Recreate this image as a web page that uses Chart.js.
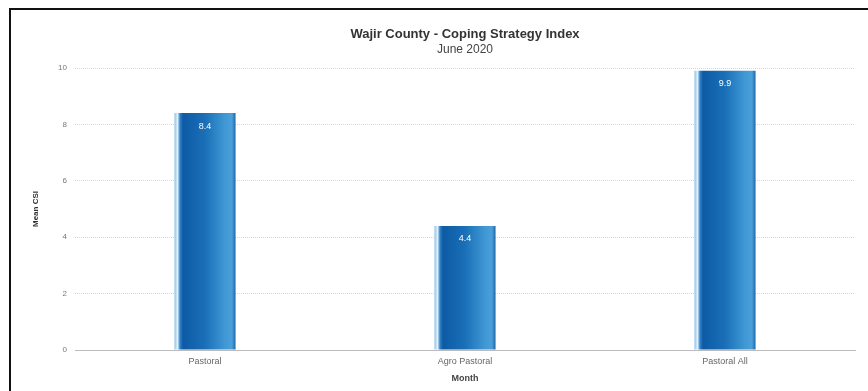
<!DOCTYPE html>
<html>
<head>
<meta charset="utf-8">
<script src="https://cdn.jsdelivr.net/npm/chart.js@4"></script>
<style>
    html, body { margin: 0; padding: 0; background: #fff; }
    #frame {
        position: absolute; left: 9px; top: 8px;
        width: 857px; height: 381px;
        border-top: 2px solid #111; border-left: 2px solid #111;
    }
    #csiChart { display: block; }
</style>
</head>
<body>
<div id="frame"><canvas id="csiChart" width="857" height="381"></canvas></div>
<script>
    // Coping strategy index by livelihood zone
    const zones = ['Pastoral', 'Agro Pastoral', 'Pastoral All'];
    const meanCsi = [8.4, 4.4, 9.9];
    const yTicks = [0, 2, 4, 6, 8, 10];

    const fontFamily = '"Liberation Sans", Arial, sans-serif';
    const barPct = 0.235;

    // cylinder-ish shading across each bar, built per bar from the x scale
    function barShade(c) {
        const chart = c.chart;
        const xs = chart.scales.x;
        if (!chart.chartArea || !xs || c.dataIndex === undefined) return '#1a6fb7';
        const w = (xs.width / zones.length) * barPct;
        const x0 = xs.getPixelForValue(c.dataIndex) - w / 2;
        const g = chart.ctx.createLinearGradient(x0, 0, x0 + w, 0);
        g.addColorStop(0, '#8fc1e6');
        g.addColorStop(0.05, '#e2f0fa');
        g.addColorStop(0.09, '#3382c4');
        g.addColorStop(0.14, '#0d5aa5');
        g.addColorStop(0.5, '#1a6fb7');
        g.addColorStop(0.82, '#3f97d4');
        g.addColorStop(0.94, '#4c9fd9');
        g.addColorStop(1, '#1d66aa');
        return g;
    }

    // value written inside the top of each bar
    const barValues = {
        id: 'barValues',
        afterDatasetsDraw(chart) {
            const ctx = chart.ctx;
            const meta = chart.getDatasetMeta(0);
            ctx.save();
            ctx.font = '9px ' + fontFamily;
            ctx.fillStyle = '#ffffff';
            ctx.textAlign = 'center';
            ctx.textBaseline = 'middle';
            meta.data.forEach(function (bar, i) {
                ctx.fillText(meanCsi[i].toFixed(1), bar.x, bar.y + 13);
            });
            ctx.restore();
        }
    };

    new Chart(document.getElementById('csiChart'), {
        type: 'bar',
        data: {
            labels: zones,
            datasets: [{
                label: 'Mean CSI',
                data: meanCsi,
                backgroundColor: barShade,
                borderWidth: 0,
                barPercentage: barPct,
                categoryPercentage: 1
            }]
        },
        options: {
            responsive: false,
            animation: false,
            layout: { padding: { left: 0, right: 13, top: 0, bottom: 0 } },
            plugins: {
                legend: { display: false },
                tooltip: { enabled: false },
                title: {
                    display: true,
                    fullSize: false,
                    text: 'Wajir County - Coping Strategy Index',
                    color: '#333',
                    font: { family: fontFamily, size: 13, weight: 'bold' },
                    padding: { top: 17, bottom: 0 }
                },
                subtitle: {
                    display: true,
                    fullSize: false,
                    text: 'June 2020',
                    color: '#444',
                    font: { family: fontFamily, size: 12 },
                    padding: { top: 0, bottom: 11 }
                }
            },
            scales: {
                x: {
                    grid: { display: false, drawTicks: false },
                    border: { display: true, color: '#bbb', width: 1 },
                    ticks: {
                        color: '#666',
                        font: { family: fontFamily, size: 9 },
                        padding: 6
                    },
                    title: {
                        display: true,
                        text: 'Month',
                        color: '#444',
                        font: { family: fontFamily, size: 9, weight: 'bold' },
                        padding: { top: 2, bottom: 7 }
                    },
                    afterFit(scale) { scale.height = 41; }
                },
                y: {
                    min: 0,
                    max: 10,
                    afterBuildTicks(scale) {
                        scale.ticks = yTicks.map(v => ({ value: v }));
                    },
                    grid: {
                        color: '#d6d6d6',
                        drawTicks: false
                    },
                    border: { display: false, dash: [1, 1] },
                    ticks: {
                        color: '#777',
                        font: { family: fontFamily, size: 8 },
                        padding: 8
                    },
                    title: {
                        display: true,
                        text: 'Mean CSI',
                        color: '#333',
                        font: { family: fontFamily, size: 8, weight: 'bold' },
                        padding: { top: 20, bottom: 0 }
                    },
                    afterFit(scale) { scale.width = 64; }
                }
            }
        },
        plugins: [barValues]
    });
</script>
</body>
</html>
